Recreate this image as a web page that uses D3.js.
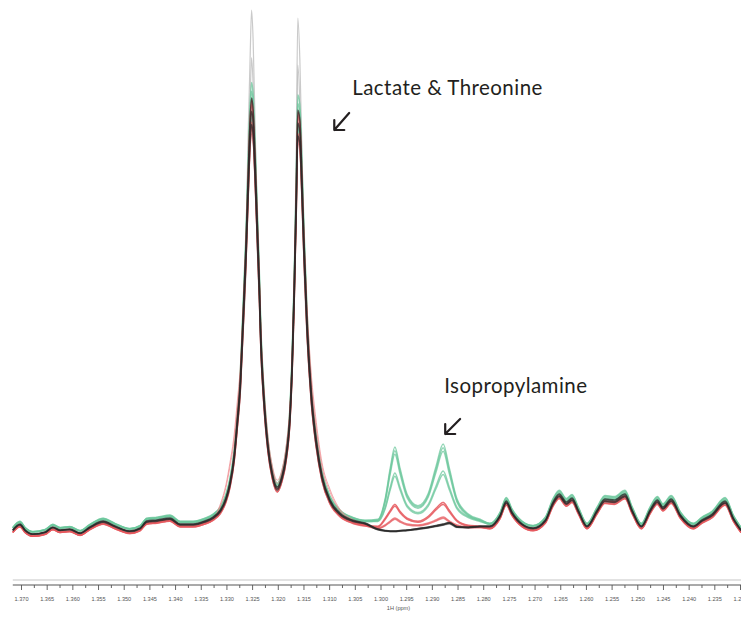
<!DOCTYPE html>
<html>
<head>
<meta charset="utf-8">
<script src="https://cdn.jsdelivr.net/npm/d3@7"></script>
<style>
  html, body { margin: 0; padding: 0; background: #fff; }
  svg { display: block; }
</style>
</head>
<body>
<svg id="chart"></svg>
<script>
// chemical shift grid (ppm) and intensities (a.u.)
const leftShifts = [1.3716, 1.3702, 1.3692, 1.3677, 1.3653, 1.3638, 1.3624, 1.3605, 1.3585, 1.3566,
  1.3540, 1.3517, 1.3488, 1.3468, 1.3455, 1.3435, 1.3410, 1.3390, 1.3365, 1.3342, 1.3326];
const leftBase = [2.0, 3.2, 2.0, 1.2, 1.6, 2.6, 2.0, 2.2, 1.4, 2.6,
  3.8, 2.8, 1.8, 2.4, 3.8, 4.0, 4.4, 3.2, 3.2, 3.8, 4.6];

// lactate / threonine doublet
const lacShifts = [1.3312, 1.3301, 1.3293, 1.3285, 1.3279, 1.3273, 1.3268, 1.3262, 1.3258, 1.3254,
  1.3251, 1.3248, 1.3244, 1.3240, 1.3236, 1.3233, 1.3227, 1.3219, 1.3211, 1.3201,
  1.3192, 1.3184, 1.3176, 1.3172, 1.3168, 1.3164, 1.3161, 1.3157, 1.3153, 1.3149,
  1.3143, 1.3135, 1.3125, 1.3114, 1.3098, 1.3079, 1.3055, 1.3030];
const lacTypical = [6.0, 8.4, 11.6, 17, 24, 32, 44, 59, 72, 84,
  88.4, 86, 76, 64, 52, 41, 29, 19, 13.6, 10.6,
  12.8, 17, 26, 36, 51, 70, 86, 84, 73, 60,
  44, 30, 20, 13, 8, 5.4, 4.0, 3.4];
const lacTall = [6.0, 8.4, 11.6, 17, 24, 32, 44, 59, 80, 96,
  106, 100, 82, 64, 52, 41, 29, 19, 13.6, 10.6,
  12.8, 17, 26, 36, 51, 78, 104.4, 96, 78, 60,
  44, 30, 20, 13, 8, 5.4, 4.0, 3.4];
const lacBroad = [7.6, 11.5, 16, 21.5, 28, 35, 45, 59, 71, 82,
  86, 84, 75, 64, 53, 43, 31, 21, 15.5, 12.4,
  14.5, 19, 28, 37, 51, 69, 84, 82, 72, 61,
  47, 34, 24, 16, 10.5, 6.6, 4.6, 3.6];

// isopropylamine doublet
const isoShifts = [1.3005, 1.2991, 1.2981, 1.2972, 1.2962, 1.2948, 1.2927, 1.2907, 1.2892, 1.2878,
  1.2866, 1.2851, 1.2829, 1.2806];
const isoGreenHigh = [3.6, 7.5, 13.5, 17.6, 13.5, 8.4, 6.2, 8.6, 13.8, 18.2, 13.5, 7.5, 4.6, 3.6];
const isoGreenLow = [3.4, 6.0, 10.0, 12.8, 10.0, 6.4, 5.0, 6.6, 10.2, 13.2, 10.0, 6.0, 4.2, 3.4];
const isoRedHigh = [3.2, 4.8, 6.4, 7.6, 6.2, 4.8, 4.2, 5.2, 6.8, 8.0, 6.4, 4.4, 3.4, 3.2];
const isoRedLow = [2.8, 3.4, 4.2, 4.8, 4.2, 3.6, 3.4, 3.8, 4.4, 5.0, 4.2, 3.4, 3.0, 3.0];
const isoBlack = [2.2, 1.9, 1.8, 1.8, 1.9, 2.0, 2.3, 2.6, 2.9, 3.2, 3.5, 2.7, 2.6, 2.8];

const rightShifts = [1.2787, 1.2767, 1.2755, 1.2744, 1.2724, 1.2703, 1.2679, 1.2664, 1.2652, 1.2638,
  1.2627, 1.2615, 1.2598, 1.2578, 1.2563, 1.2545, 1.2524, 1.2510, 1.2492, 1.2475,
  1.2461, 1.2450, 1.2434, 1.2416, 1.2391, 1.2374, 1.2354, 1.2329, 1.2313, 1.2298];
const rightBase = [2.8, 5.0, 7.8, 5.6, 3.2, 2.4, 4.0, 7.6, 9.2, 7.6,
  8.4, 6.0, 2.8, 6.0, 8.2, 8.0, 9.2, 6.0, 2.8, 6.0,
  8.0, 6.6, 8.2, 5.0, 2.8, 4.0, 5.2, 7.8, 4.4, 2.0];

// per-spectrum scaling inside each colour group, and each group's level shift
const grayGains = [1.0, 0.91];
const blackGains = [1.0, 0.97, 0.94];
const redBroadGains = [1.0, 0.95];
const redHighGains = [0.99, 0.94];
const redLowGains = [1.0, 0.95];
const greenHighGains = [1.03, 0.99, 0.95];
const greenLowGains = [1.01, 0.96];
const groupLevels = [0, 0.45, 0.45, -0.45, -0.4, -0.4, 0];

const tickStep = 0.0025;
const tickCount = 57;
const axisExtent = [1.3716, 1.2298];

const labels = ["Lactate & Threonine", "Isopropylamine"];
const labelShift = [1.3055, 1.2876];
const labelLevel = [89, 29.4];
const arrowTail = [[1.3061, 85.4], [1.2845, 24.2]];
const arrowHead = [[1.3090, 82.0], [1.2874, 21.2]];

const width = 741, height = 618;

const svg = d3.select("#chart")
  .attr("width", width)
  .attr("height", height)
  .attr("viewBox", [0, 0, width, height]);

svg.append("defs").append("filter")
  .attr("id", "soft")
  .append("feGaussianBlur")
  .attr("stdDeviation", 0.45);

const x = d3.scaleLinear().domain([1.370, 1.230]).range([21, 740]);
const y = d3.scaleLinear().domain([0, 106]).range([540, 10]);

const shifts = leftShifts.concat(lacShifts, isoShifts, rightShifts);
const buildTrace = (lac, iso) => leftBase.concat(lac, iso, rightBase);

const groups = [
  {color: "#b8b8b8", width: 1.2, trace: buildTrace(lacTall, isoBlack), gains: grayGains},
  {color: "#6cc79c", width: 1.5, trace: buildTrace(lacTypical, isoGreenHigh), gains: greenHighGains},
  {color: "#6cc79c", width: 1.5, trace: buildTrace(lacTypical, isoGreenLow), gains: greenLowGains},
  {color: "#ef8a8e", width: 1.0, trace: buildTrace(lacBroad, isoRedHigh), gains: redBroadGains},
  {color: "#e5585e", width: 1.5, trace: buildTrace(lacTypical, isoRedHigh), gains: redHighGains},
  {color: "#e5585e", width: 1.5, trace: buildTrace(lacTypical, isoRedLow), gains: redLowGains},
  {color: "#2a2a2a", width: 1.5, trace: buildTrace(lacTypical, isoBlack), gains: blackGains}
];

const line = d3.line()
  .x(d => x(d[0]))
  .y(d => y(d[1]))
  .curve(d3.curveMonotoneX);

const plot = svg.append("g").attr("filter", "url(#soft)");
groups.forEach((g, gi) => {
  g.gains.forEach(k => {
    plot.append("path")
      .datum(shifts.map((s, i) => [s, g.trace[i] * k + groupLevels[gi]]))
      .attr("fill", "none")
      .attr("stroke", g.color)
      .attr("stroke-opacity", 0.75)
      .attr("stroke-width", g.width)
      .attr("stroke-linejoin", "round")
      .attr("d", line);
  });
});

// frame line + axis
svg.append("line")
  .attr("x1", x(axisExtent[0])).attr("x2", x(axisExtent[1]))
  .attr("y1", 580).attr("y2", 580)
  .attr("stroke", "#e2e2e2").attr("stroke-width", 2);

const ticks = d3.range(tickCount).map(k => 1.370 - k * tickStep);
const isMajor = (d, i) => i % 2 === 0;

const axis = svg.append("g")
  .attr("transform", "translate(0,585)")
  .call(d3.axisBottom(x).tickValues(ticks).tickSize(5)
    .tickFormat((d, i) => isMajor(d, i) ? d3.format(".3f")(d) : ""));

axis.select(".domain").remove();
axis.append("line")
  .attr("x1", x(axisExtent[0])).attr("x2", x(axisExtent[1]))
  .attr("stroke", "#555").attr("stroke-width", 1);
axis.selectAll(".tick line")
  .attr("stroke", "#666")
  .attr("y2", (d, i) => isMajor(d, i) ? 5 : 3);
axis.selectAll(".tick text")
  .attr("y", 12)
  .attr("fill", "#555")
  .attr("font-family", "Liberation Sans, Arial, sans-serif")
  .attr("font-size", 5.6);

svg.append("text")
  .attr("x", x(1.2965))
  .attr("y", 610)
  .attr("text-anchor", "middle")
  .attr("fill", "#555")
  .attr("font-family", "Liberation Sans, Arial, sans-serif")
  .attr("font-size", 5.6)
  .text("1H (ppm)");

// annotations
const ann = svg.append("g");
labels.forEach((t, i) => {
  ann.append("text")
    .attr("x", x(labelShift[i]))
    .attr("y", y(labelLevel[i]))
    .attr("fill", "#231f20")
    .attr("font-family", "Lato, 'Open Sans', sans-serif")
    .attr("font-size", 20.5)
    .attr("letter-spacing", 0.45)
    .text(t);
  const hx = x(arrowHead[i][0]), hy = y(arrowHead[i][1]);
  const tx = x(arrowTail[i][0]), ty = y(arrowTail[i][1]);
  ann.append("path")
    .attr("d", `M${tx},${ty}L${hx},${hy}M${hx + 10},${hy}L${hx},${hy}L${hx},${hy - 10}`)
    .attr("fill", "none")
    .attr("stroke", "#231f20")
    .attr("stroke-width", 2.2)
    .attr("stroke-linecap", "round")
    .attr("stroke-linejoin", "round");
});
</script>
</body>
</html>
